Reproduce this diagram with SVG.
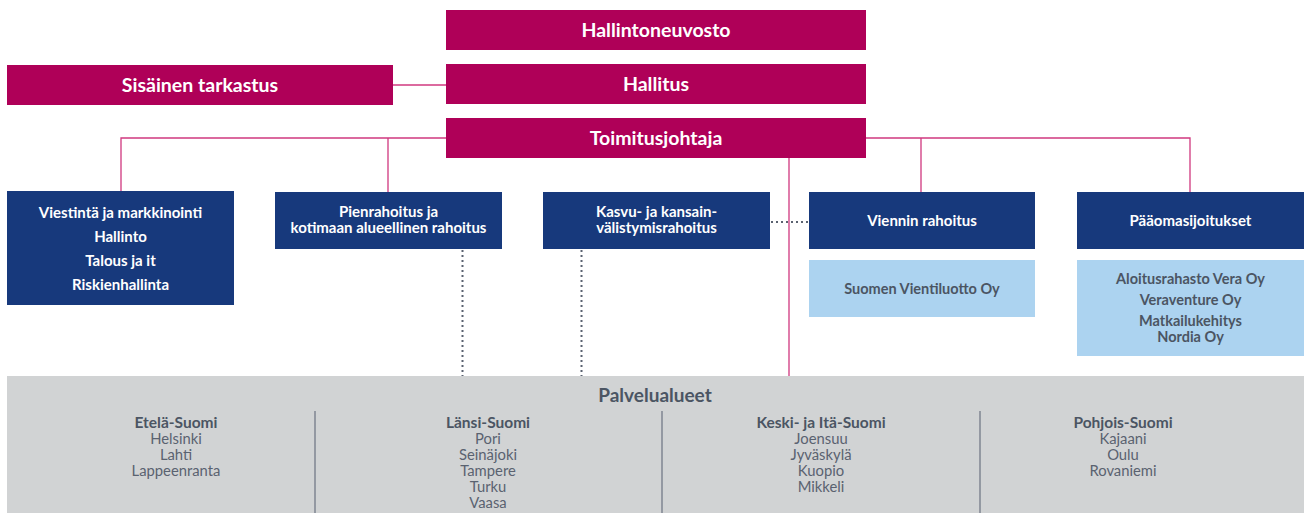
<svg xmlns="http://www.w3.org/2000/svg" width="1304" height="513" viewBox="0 0 1304 513">
<style>
.mg{fill:#af0058}
.bl{fill:#17397c}
.lb{fill:#acd3f0}
.gr{fill:#d1d3d4}
text{font-family:Lato,"Noto Sans",sans-serif;text-anchor:middle;dominant-baseline:central}
.tw{fill:#fff;font-weight:bold;font-size:19.5px}
.tb{fill:#fff;font-weight:bold;font-size:15px}
.ts{fill:#4b5563;font-weight:bold;font-size:14.5px}
.th{fill:#4b5563;font-weight:bold;font-size:15.5px}
.tc{fill:#5a6270;font-size:14.8px}
.tp{fill:#4b5563;font-weight:bold;font-size:19px}
.ln{stroke:#d0387f;stroke-width:1.3;fill:none}
.dt{stroke:#5a6270;stroke-width:2;stroke-dasharray:2 3;fill:none}
.dv{stroke:#6b7280;stroke-width:1.2}
</style>
<rect width="1304" height="513" fill="#fff"/>
<g id="connectors">
<path class="ln" d="M393 85H446"/>
<path class="ln" d="M121 191V138H446M866 138H1190V192M388 138V192M921 138V192M789 158V376"/>
<path class="dt" d="M462.5 250V376M581.5 250V376M771 222H810"/>
</g>
<g id="hallintoneuvosto"><rect class="mg" x="446" y="10" width="420" height="40"/><text class="tw" x="656" y="29">Hallintoneuvosto</text></g>
<g id="hallitus"><rect class="mg" x="446" y="64" width="420" height="40"/><text class="tw" x="656" y="83">Hallitus</text></g>
<g id="sisainen"><rect class="mg" x="7" y="65" width="386" height="40"/><text class="tw" x="200" y="84">Sisäinen tarkastus</text></g>
<g id="toimitusjohtaja"><rect class="mg" x="446" y="118" width="420" height="40"/><text class="tw" x="656" y="137">Toimitusjohtaja</text></g>
<g id="viestinta"><rect class="bl" x="7" y="191" width="227" height="114"/>
<text class="tb" x="120.5" y="212">Viestintä ja markkinointi</text>
<text class="tb" x="120.5" y="236">Hallinto</text>
<text class="tb" x="120.5" y="260">Talous ja it</text>
<text class="tb" x="120.5" y="284">Riskienhallinta</text></g>
<g id="pienrahoitus"><rect class="bl" x="275" y="192" width="227" height="57"/>
<text class="tb" x="388.5" y="211">Pienrahoitus ja</text>
<text class="tb" x="388.5" y="226.5">kotimaan alueellinen rahoitus</text></g>
<g id="kasvu"><rect class="bl" x="543" y="192" width="227" height="57"/>
<text class="tb" x="656.5" y="211">Kasvu- ja kansain-</text>
<text class="tb" x="656.5" y="226.5">välistymisrahoitus</text></g>
<g id="viennin"><rect class="bl" x="809" y="192" width="226" height="57"/>
<text class="tb" x="922" y="220">Viennin rahoitus</text></g>
<g id="paaoma"><rect class="bl" x="1077" y="192" width="227" height="57"/>
<text class="tb" x="1190.5" y="220">Pääomasijoitukset</text></g>
<g id="vientiluotto"><rect class="lb" x="809" y="260" width="226" height="57"/>
<text class="ts" x="922" y="288">Suomen Vientiluotto Oy</text></g>
<g id="paaoma-yhtiot"><rect class="lb" x="1077" y="260" width="227" height="96"/>
<text class="ts" x="1190.5" y="278">Aloitusrahasto Vera Oy</text>
<text class="ts" x="1190.5" y="299">Veraventure Oy</text>
<text class="ts" x="1190.5" y="320">Matkailukehitys</text>
<text class="ts" x="1190.5" y="336">Nordia Oy</text></g>
<g id="palvelualueet"><rect class="gr" x="7" y="376" width="1297" height="137"/>
<text class="tp" x="655" y="394">Palvelualueet</text>
<line class="dv" x1="315" y1="411" x2="315" y2="513"/>
<line class="dv" x1="662" y1="411" x2="662" y2="513"/>
<line class="dv" x1="980" y1="411" x2="980" y2="513"/>
<text class="th" x="176" y="422">Etelä-Suomi</text>
<text class="tc" x="176" y="438">Helsinki</text>
<text class="tc" x="176" y="454">Lahti</text>
<text class="tc" x="176" y="470">Lappeenranta</text>
<text class="th" x="488" y="422">Länsi-Suomi</text>
<text class="tc" x="488" y="438">Pori</text>
<text class="tc" x="488" y="454">Seinäjoki</text>
<text class="tc" x="488" y="470">Tampere</text>
<text class="tc" x="488" y="486">Turku</text>
<text class="tc" x="488" y="502">Vaasa</text>
<text class="th" x="821" y="422">Keski- ja Itä-Suomi</text>
<text class="tc" x="821" y="438">Joensuu</text>
<text class="tc" x="821" y="454">Jyväskylä</text>
<text class="tc" x="821" y="470">Kuopio</text>
<text class="tc" x="821" y="486">Mikkeli</text>
<text class="th" x="1123" y="422">Pohjois-Suomi</text>
<text class="tc" x="1123" y="438">Kajaani</text>
<text class="tc" x="1123" y="454">Oulu</text>
<text class="tc" x="1123" y="470">Rovaniemi</text>
</g>
</svg>
